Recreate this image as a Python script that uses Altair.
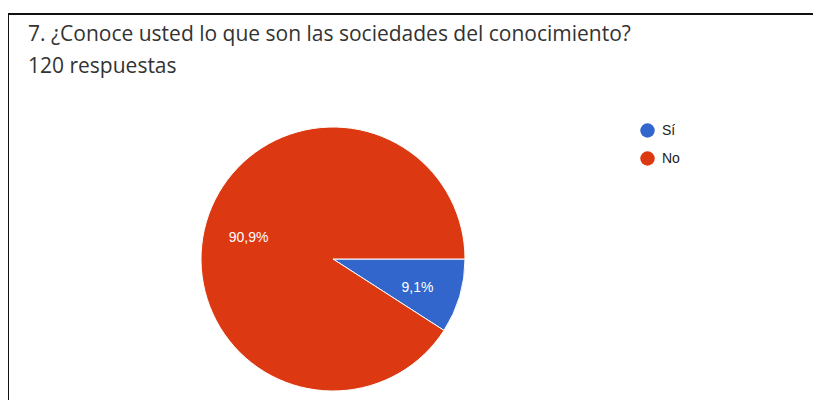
import altair as alt
import pandas as pd

categories = ["Sí", "No"]
values = [9.1, 90.9]
labels = ["9,1%", "90,9%"]
colors = ["#3366CC", "#DC3912"]
title_lines = ["7. ¿Conoce usted lo que son las sociedades del conocimiento?", "120 respuestas"]

df = pd.DataFrame({"cat": categories, "val": values, "lab": labels, "ord": [0, 1]})

W, H = 805, 392
CX, CY, R = 325, 251, 132
START = 1.5708

color = alt.Color("cat:N", scale=alt.Scale(domain=categories, range=colors),
                  legend=alt.Legend(title=None, orient="none", legendX=632, legendY=115,
                                    symbolType="circle", symbolSize=210, labelFontSize=14,
                                    labelFont="Arial", labelColor="#222222", rowPadding=13,
                                    symbolStrokeWidth=0, labelOffset=7))

theta = alt.Theta("val:Q", stack=True, scale=alt.Scale(range=[START, START + 6.28319]))

pie = alt.Chart(df).mark_arc(radius=R, stroke="white", strokeWidth=1).encode(
    theta=theta, color=color, order=alt.Order("ord:Q"),
    x=alt.value(CX), y=alt.value(CY))

text = alt.Chart(df).mark_text(radius=88, fontSize=14, font="Arial", color="white").encode(
    theta=theta, text="lab:N", order=alt.Order("ord:Q"),
    x=alt.value(CX), y=alt.value(CY + 4))

tdf = pd.DataFrame({"t": title_lines, "y": [33, 65]})
titles = alt.Chart(tdf).mark_text(align="left", baseline="alphabetic", font="Open Sans",
                                   fontSize=21, color="#333333").encode(
    x=alt.value(20), y=alt.Y("y:Q", scale=None), text="t:N")

top = alt.Chart(pd.DataFrame({"a": [0]})).mark_rule(color="#111111", strokeWidth=2).encode(
    x=alt.value(0), x2=alt.value(W), y=alt.value(6))
left = alt.Chart(pd.DataFrame({"a": [0]})).mark_rule(color="#111111", strokeWidth=2).encode(
    x=alt.value(0), y=alt.value(6), y2=alt.value(H))

chart = alt.layer(top, left, pie, text, titles).properties(
    width=W, height=H, autosize=alt.AutoSizeParams(type="none"), padding=0
).configure_view(stroke=None)

chart.save("out.html", embed_options={"renderer": "svg", "actions": False})
